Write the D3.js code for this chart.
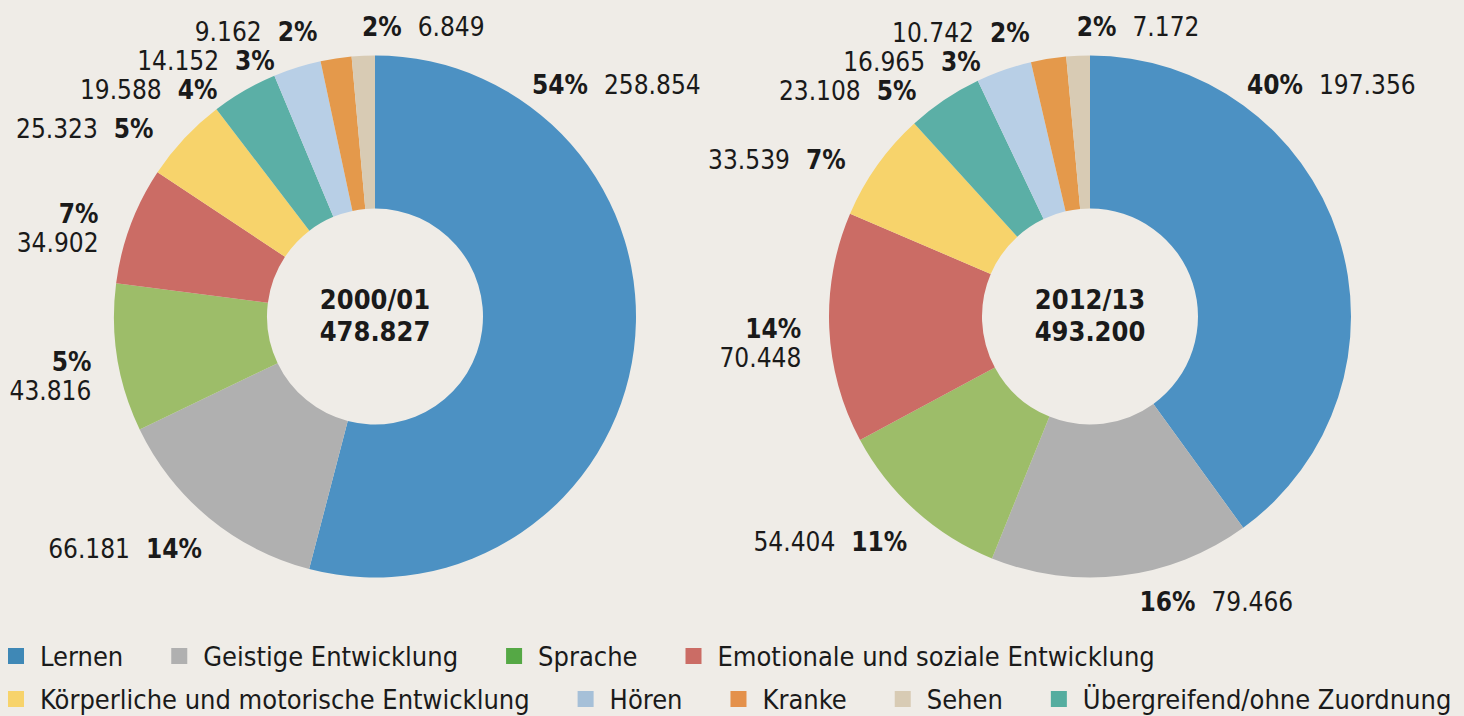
<!DOCTYPE html>
<html>
<head>
<meta charset="utf-8">
<script src="https://cdn.jsdelivr.net/npm/d3@7"></script>
<style>
  html, body { margin: 0; padding: 0; background: #efece7; }
  svg { display: block; }
  text { font-family: "DejaVu Sans Condensed", "Liberation Sans Narrow", "DejaVu Sans", sans-serif; fill: #1a1a1a; }
</style>
</head>
<body>
<div id="chart"></div>
<script>
// legend order
const categories = ["Lernen", "Geistige Entwicklung", "Sprache", "Emotionale und soziale Entwicklung",
  "Körperliche und motorische Entwicklung", "Hören", "Kranke", "Sehen", "Übergreifend/ohne Zuordnung"]
const sliceColors = ["#4c91c3", "#b0b0b0", "#9dbd69", "#cb6c65", "#f7d36b", "#b8cfe6", "#e4994b", "#d8cbb4", "#5bafa6"]
const legendColors = ["#3f88b6", "#b0b0b0", "#55a845", "#cb6c65", "#f7d36b", "#a6c0d8", "#e4914b", "#d8cbb4", "#55ad9f"]

// slice order, clockwise from 12 o'clock
const sliceOrder = ["Lernen", "Geistige Entwicklung", "Sprache", "Emotionale und soziale Entwicklung",
  "Körperliche und motorische Entwicklung", "Übergreifend/ohne Zuordnung", "Hören", "Kranke", "Sehen"]

const years = ["2000/01", "2012/13"]
const totals = [478827, 493200]
const values2000 = [258854, 66181, 43816, 34902, 25323, 19588, 14152, 9162, 6849]
const values2012 = [197356, 79466, 54404, 70448, 33539, 23108, 16965, 10742, 7172]
const pct2000 = [54, 14, 5, 7, 5, 4, 3, 2, 2]
const pct2012 = [40, 16, 11, 14, 7, 5, 3, 2, 2]

const W = 1464, H = 716
const fmt = d3.formatLocale({decimal: ",", thousands: ".", grouping: [3], currency: ["", "€"]}).format(",")

const svg = d3.select("#chart").append("svg")
  .attr("width", W).attr("height", H)

const outerR = 261, innerR = 108, labelR = 290
const centers = [[375, 316.5], [1090, 316.5]]
const colorOf = d3.scaleOrdinal().domain(categories).range(sliceColors)

const pie = d3.pie().sort(null).value(d => d.value)
const arc = d3.arc().innerRadius(innerR).outerRadius(outerR)

function drawDonut(k, values, pcts) {
  const data = sliceOrder.map((c, i) => ({cat: c, value: values[i], pct: pcts[i]}))
  const g = svg.append("g").attr("transform", `translate(${centers[k][0]},${centers[k][1]})`)

  const arcs = pie(data)
  g.selectAll("path")
    .data(arcs)
    .enter().append("path")
    .attr("d", arc)
    .attr("fill", d => colorOf(d.data.cat))

  // label anchor points
  const labels = arcs.map((d, i) => {
    const mid = (d.startAngle + d.endAngle) / 2
    let a = mid - 0.05, r = labelR
    let anchor = "end"
    if (i === 0) { a = Math.min(mid, 0.595); r = labelR - 10; anchor = "start" }
    else if (mid > 2 * Math.PI - 0.09) { a = mid; anchor = "start" }
    else if (a < Math.PI) anchor = "start"
    return {d: d, a: a, anchor: anchor, x: r * Math.sin(a), y: -r * Math.cos(a)}
  })

  // push the crowded top-left labels apart
  const topLeft = labels.filter(l => l.anchor === "end" && l.y < -100)
    .sort((p, q) => p.y - q.y)
  for (let j = 1; j < topLeft.length; j++) {
    if (topLeft[j].y < topLeft[j - 1].y + 29) topLeft[j].y = topLeft[j - 1].y + 29
  }

  labels.forEach(l => {
    const deg = l.a * 180 / Math.PI
    const pctTxt = l.d.data.pct + "%", valTxt = fmt(l.d.data.value)
    const t = g.append("text")
      .attr("text-anchor", l.anchor)
      .attr("dominant-baseline", "central")
      .style("font-size", "26px")
    if (deg > 240 && deg < 300) {
      t.attr("x", l.x).attr("y", l.y - 14.5)
        .append("tspan").style("font-weight", "bold").text(pctTxt)
      g.append("text")
        .attr("text-anchor", l.anchor)
        .attr("dominant-baseline", "central")
        .style("font-size", "26px")
        .attr("x", l.x).attr("y", l.y + 14.5)
        .text(valTxt)
    } else if (l.anchor === "end") {
      t.attr("x", l.x).attr("y", l.y)
      t.append("tspan").text(valTxt)
      t.append("tspan").attr("dx", 16).style("font-weight", "bold").text(pctTxt)
    } else {
      t.attr("x", l.x).attr("y", l.y)
      t.append("tspan").style("font-weight", "bold").text(pctTxt)
      t.append("tspan").attr("dx", 16).text(valTxt)
    }
  })

  // centre text
  g.append("text").attr("text-anchor", "middle").attr("dominant-baseline", "central")
    .attr("y", -17).style("font-size", "27px").style("font-weight", "bold").text(years[k])
  g.append("text").attr("text-anchor", "middle").attr("dominant-baseline", "central")
    .attr("y", 15).style("font-size", "27px").style("font-weight", "bold").text(fmt(totals[k]))
}

drawDonut(0, values2000, pct2000)
drawDonut(1, values2012, pct2012)

// legend, two rows flowing left to right
const legendRows = [categories.slice(0, 4), categories.slice(4)]
const rowY = [656, 699]
legendRows.forEach((row, r) => {
  let x = 8
  row.forEach(c => {
    const i = categories.indexOf(c)
    svg.append("rect")
      .attr("x", x).attr("y", rowY[r] - 8)
      .attr("width", 16).attr("height", 16)
      .attr("fill", legendColors[i])
    const t = svg.append("text")
      .attr("x", x + 32).attr("y", rowY[r])
      .attr("dominant-baseline", "central")
      .style("font-size", "27px")
      .text(c)
    x = x + 32 + t.node().getComputedTextLength() + 48
  })
})
</script>
</body>
</html>
